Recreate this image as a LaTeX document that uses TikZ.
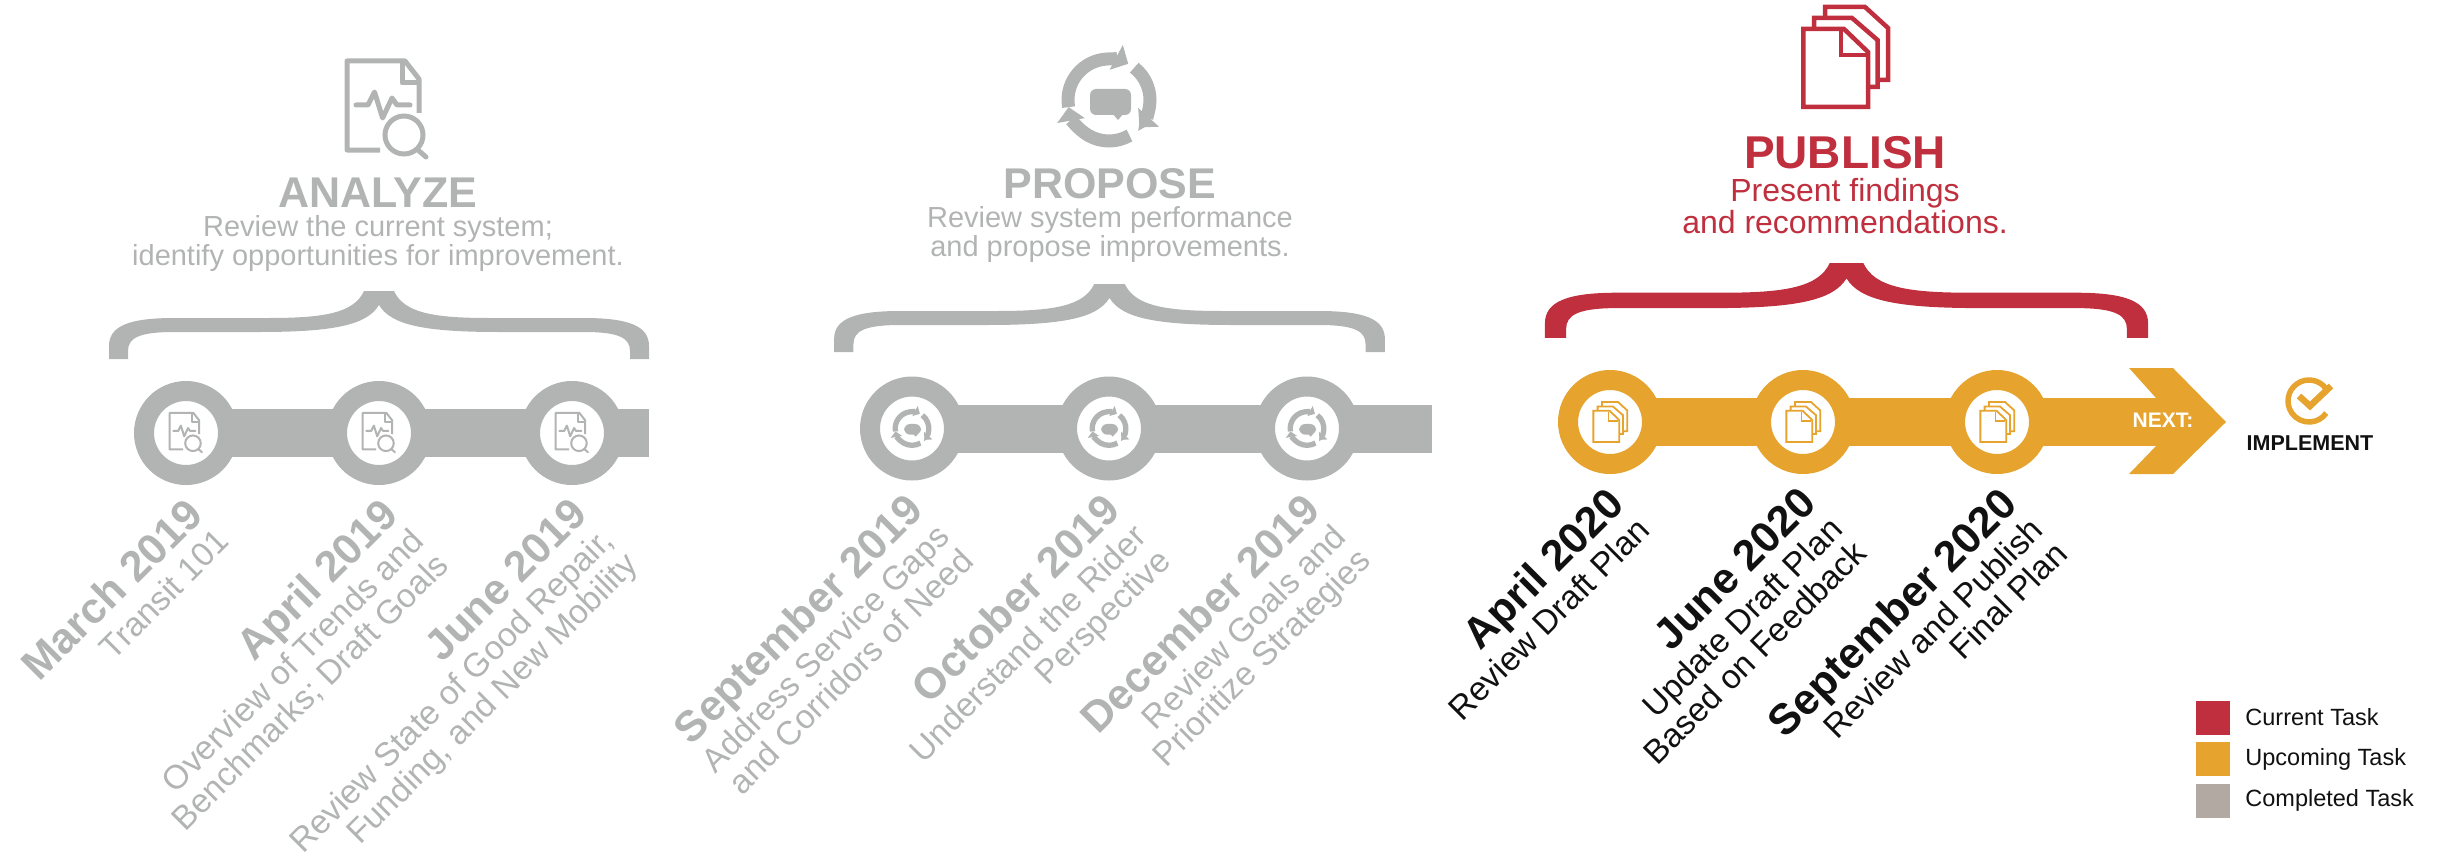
\documentclass[tikz,border=0pt]{standalone}
\usepackage{fontspec}
\setmainfont{Liberation Sans}
\usetikzlibrary{positioning, calc, backgrounds, arrows.meta}

\definecolor{pastgray}{HTML}{B2B4B3}
\definecolor{nowred}{HTML}{BF2F3E}
\definecolor{nextorange}{HTML}{E6A42E}
\definecolor{keygray}{HTML}{B3A9A3}
\definecolor{inkblack}{HTML}{111111}

\newcommand{\when}[1]{{\bfseries\fontsize{43}{43}\selectfont #1}}

\tikzset{
    stopring/.style={circle, draw=#1, line width=20pt, fill=white, minimum size=84pt, inner sep=0pt},
    bar/.style={line width=48pt, draw=#1},
    heading/.style={inner sep=0pt, text=#1, font=\bfseries\fontsize{43}{43}\selectfont},
    blurb/.style={inner sep=0pt, align=center, text=#1, font=\fontsize{29}{29}\selectfont},
    datelabel/.style={rotate=45, anchor=north east, align=right, inner sep=0pt, text=#1,
        font=\fontsize{33.5}{34}\selectfont},
    swatch/.style={rectangle, fill=#1, minimum width=34pt, minimum height=34pt, inner sep=0pt},
    keytext/.style={inner sep=0pt, text=inkblack, font=\fontsize{23.5}{23.5}\selectfont},
    docicon/.pic={
        \draw[line join=round] (-7,40) -- (-40,40) -- (-40,-49) -- (18,-49) -- (32,-31) -- (32,3);
        \draw[line join=round] (15,-49) -- (15,-27) -- (32,-27);
        \draw[line join=round, line cap=round] (-31,-5) -- (-19,-5) -- (-12.5,-18) -- (-4.4,8) -- (5,-12) -- (10,-5) -- (23,-5);
        \draw (17,25) circle[radius=19pt];
        \draw[line cap=round] (31,40) -- (39,47);
    },
    cycleicon/.pic={
        \draw[-{Triangle[length=0pt 1.05, width=0pt 2.1]}] (190:41pt) arc[start angle=190, end angle=62, radius=41pt];
        \draw[-{Triangle[length=0pt 1.05, width=0pt 2.1]}] (52:41pt) arc[start angle=52, end angle=-42, radius=41pt];
        \draw[-{Triangle[length=0pt 1.05, width=0pt 2.1]}] (-60:41pt) arc[start angle=-60, end angle=-170, radius=41pt];
        \fill[rounded corners=6pt] (-19,-11) rectangle (22,15);
        \fill (3,13) -- (15,13) -- (9,20) -- cycle;
    },
    pagesicon/.pic={
        \draw (-41.6,-28) -- (-1,-28) -- (23,-5) -- (23,50) -- (-41.6,50) -- cycle;
        \draw (-4,-26) -- (-4,-2) -- (21,-2);
        \draw (-31,-28) -- (-31,-39) -- (7,-39) -- (32.5,-17) -- (32.5,30) -- (23,30);
        \draw (-20,-39) -- (-20,-50) -- (20,-50) -- (43,-29) -- (43,23) -- (32.5,23);
    },
    checkicon/.pic={
        \draw (35:21pt) arc[start angle=35, end angle=325, radius=21pt];
        \draw[line width=6.5pt] (-10,-5) -- (1,5) -- (22,-15);
    },
    bracket/.pic={
        \fill (-270,68) -- (-270,55) .. controls (-270,35) and (-250,27) .. (-205,27) -- (-110,27)
            .. controls (-55,27) and (-25,22) .. (-15,0) -- (15,0)
            .. controls (25,22) and (55,27) .. (110,27) -- (205,27)
            .. controls (250,27) and (270,35) .. (270,55) -- (270,68) -- (251,68) -- (251,60)
            .. controls (251,47) and (240,41) .. (205,41) -- (120,41)
            .. controls (45,41) and (12,34) .. (0,14)
            .. controls (-12,34) and (-45,41) .. (-120,41) -- (-205,41)
            .. controls (-240,41) and (-251,47) .. (-251,60) -- (-251,68) -- cycle;
    }
}

\begin{document}
\begin{tikzpicture}[x=1pt, y=-1pt]
\useasboundingbox (0,0) rectangle (2443,856);

\node[stopring=pastgray] (a1) at (186,433) {};
\node[stopring=pastgray, right of=a1, node distance=193pt] (a2) {};
\node[stopring=pastgray, right of=a2, node distance=193pt] (a3) {};
\coordinate (aend) at (649,433);

\node[stopring=pastgray] (b1) at (912,428.5) {};
\node[stopring=pastgray, right of=b1, node distance=197pt] (b2) {};
\node[stopring=pastgray, right of=b2, node distance=198pt] (b3) {};
\coordinate (bend) at (1432,428.5);

\node[stopring=nextorange] (c1) at (1610,422) {};
\node[stopring=nextorange, right of=c1, node distance=193pt] (c2) {};
\node[stopring=nextorange, right of=c2, node distance=194pt] (c3) {};
\coordinate (cend) at (2160,422);

\begin{scope}[on background layer]
\draw[bar=pastgray] (a1.center) -- (a2.center) -- (a3.center) -- (aend);
\draw[bar=pastgray] (b1.center) -- (b2.center) -- (b3.center) -- (bend);
\draw[bar=nextorange] (c1.center) -- (c2.center) -- (c3.center) -- (cend);
\end{scope}

\fill[nextorange] (2129,368) -- (2173,368) -- (2226,422) -- (2173,474) -- (2129,474) -- (2156,446)
    -- (2156,398) -- cycle;

\pic[pastgray, line width=5pt] at (387,110) {docicon};
\pic[pastgray, line width=13pt] at (1109,100) {cycleicon};
\pic[nowred, line width=4.5pt] at (1845,57) {pagesicon};

\pic[pastgray, line width=2pt, scale=.41] at (a1) {docicon};
\pic[pastgray, line width=2pt, scale=.41] at (a2) {docicon};
\pic[pastgray, line width=2pt, scale=.41] at (a3) {docicon};
\pic[pastgray, line width=5.3pt, scale=.41] at (b1) {cycleicon};
\pic[pastgray, line width=5.3pt, scale=.41] at (b2) {cycleicon};
\pic[pastgray, line width=5.3pt, scale=.41] at (b3) {cycleicon};
\pic[nextorange, line width=1.8pt, scale=.4] at (c1) {pagesicon};
\pic[nextorange, line width=1.8pt, scale=.4] at (c2) {pagesicon};
\pic[nextorange, line width=1.8pt, scale=.4] at (c3) {pagesicon};

\node[heading=pastgray, anchor=base] (atitle) at (378,207) {ANALYZE};
\node[blurb=pastgray, below=8pt of atitle] (atext)
    {Review the current system;\\identify opportunities for improvement.};
\node[heading=pastgray, anchor=base] (btitle) at (1110,198) {PROPOSE};
\node[blurb=pastgray, below=8pt of btitle] (btext)
    {Review system performance\\and propose improvements.};
\node[heading=nowred, anchor=base, font=\bfseries\fontsize{46}{46}\selectfont] (ctitle) at (1845,168) {PUBLISH};
\node[blurb=nowred, below=9pt of ctitle, font=\fontsize{32}{32}\selectfont] (ctext)
    {Present findings\\and recommendations.};

\pic[pastgray] at (379,291) {bracket};
\pic[pastgray, xscale=1.02] at (1109.5,284) {bracket};
\pic[nowred, xscale=1.117, yscale=1.1] at (1846.5,263) {bracket};

\node[datelabel=pastgray] (a1when) at ($(a1)+(-3,62)$) {\when{March 2019}\\[3pt]Transit 101};
\node[datelabel=pastgray] (a2when) at ($(a2)+(-1,62)$) {\when{April 2019}\\[3pt]Overview of Trends and\\Benchmarks; Draft Goals};
\node[datelabel=pastgray] (a3when) at ($(a3)+(-4,62)$) {\when{June 2019}\\[3pt]Review State of Good Repair,\\Funding, and New Mobility};

\node[datelabel=pastgray] (b1when) at ($(b1)+(-9,62)$) {\when{September 2019}\\[3pt]Address Service Gaps\\and Corridors of Need};
\node[datelabel=pastgray] (b2when) at ($(b2)+(-9,62)$) {\when{October 2019}\\[3pt]Understand the Rider\\Perspective};
\node[datelabel=pastgray] (b3when) at ($(b3)+(-7,62)$) {\when{December 2019}\\[3pt]Review Goals and\\Prioritize Strategies};

\node[datelabel=inkblack] (c1when) at ($(c1)+(-6,62)$) {\when{April 2020}\\[3pt]Review Draft Plan};
\node[datelabel=inkblack] (c2when) at ($(c2)+(-6,62)$) {\when{June 2020}\\[3pt]Update Draft Plan\\Based on Feedback};
\node[datelabel=inkblack] (c3when) at ($(c3)+(0,62)$) {\when{September 2020}\\[3pt]Review and Publish\\Final Plan};

\node[inner sep=0pt, text=white, font=\bfseries\fontsize{21}{21}\selectfont] (next) at (2163,420) {NEXT:};
\node[inner sep=0pt, text=inkblack, font=\bfseries\fontsize{21.5}{21.5}\selectfont] (implement) at (2310,443) {IMPLEMENT};
\pic[nextorange, line width=5.5pt] at ($(implement)+(-1,-42)$) {checkicon};

\node[swatch=nowred] (key1) at (2213,717.5) {};
\node[swatch=nextorange, below of=key1, node distance=41.5pt] (key2) {};
\node[swatch=keygray, below of=key2, node distance=41.5pt] (key3) {};
\node[keytext, right=15pt of key1] (key1text) {Current Task};
\node[keytext, right=15pt of key2] (key2text) {Upcoming Task};
\node[keytext, right=15pt of key3] (key3text) {Completed Task};
\end{tikzpicture}
\end{document}
